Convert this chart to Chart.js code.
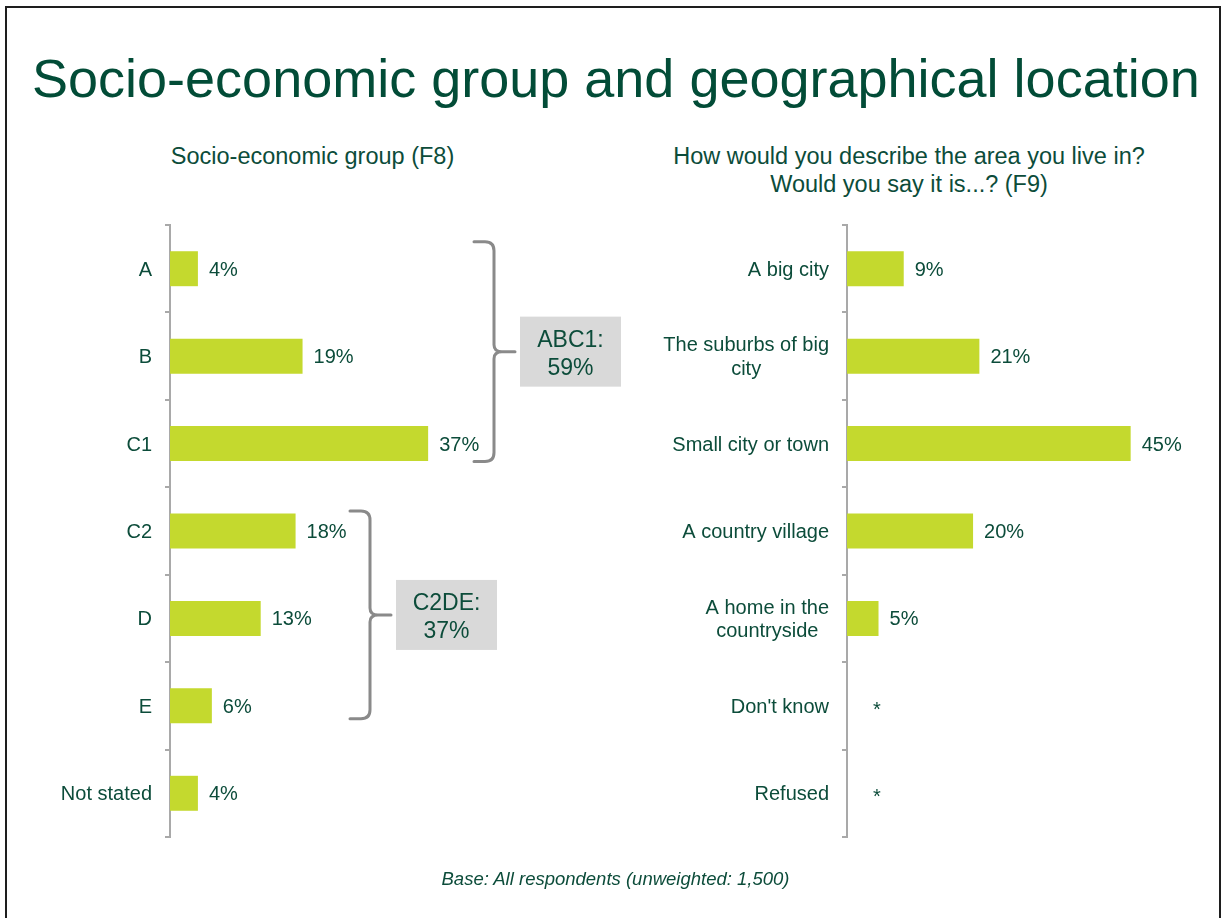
<!DOCTYPE html>
<html>
<head>
<meta charset="utf-8">
<title>Socio-economic group and geographical location</title>
<script src="https://cdn.jsdelivr.net/npm/chart.js@4.4.1/dist/chart.umd.min.js"></script>
<style>
  html, body { margin: 0; padding: 0; background: #ffffff; }
  body {
    width: 1228px; height: 918px; position: relative; overflow: hidden;
    font-family: "Liberation Sans", Arial, Helvetica, sans-serif; color: #0c4c3a;
  }
  .frame {
    position: absolute; left: 5px; top: 6px; width: 1212px; height: 1000px;
    border: 2px solid #1e1e1e; box-sizing: content-box;
  }
  .title {
    position: absolute; left: 32px; top: 51px; margin: 0;
    font-size: 54px; line-height: 1; font-weight: normal; color: #024c37; white-space: nowrap;
  }
  .sub {
    position: absolute; top: 142px; font-size: 23.5px; line-height: 28px;
    white-space: nowrap; text-align: center;
  }
  .sub.left { left: 0; width: 625px; }
  .sub.right { left: 640px; width: 538px; }
  .note {
    position: absolute; left: 0; width: 1231px; top: 870px; text-align: center;
    font-size: 18.5px; line-height: 1; font-style: italic; white-space: nowrap;
  }
  canvas { position: absolute; top: 0; }
  #segChart { left: 0; }
  #areaChart { left: 640px; }
</style>
</head>
<body>
<div class="frame"></div>
<h1 class="title">Socio-economic group and geographical location</h1>
<div class="sub left">Socio-economic group (F8)</div>
<div class="sub right">How would you describe the area you live in?<br>Would you say it is...? (F9)</div>
<canvas id="segChart" width="640" height="918"></canvas>
<canvas id="areaChart" width="588" height="918"></canvas>
<div class="note">Base: All respondents (unweighted: 1,500)</div>

<script>
// Socio-economic group (F8), % of respondents
const segCategories = ['A', 'B', 'C1', 'C2', 'D', 'E', 'Not stated'];
const segValues = [4, 19, 37, 18, 13, 6, 4];

// Net groupings shown beside the socio-economic bars
const groupNames = ['ABC1:', 'C2DE:'];
const groupTotals = [59, 37];
const groupFirst = ['A', 'C2'];
const groupLast = ['C1', 'E'];

// Area lived in (F9), % of respondents; null = under 0.5%, shown as "*"
const areaCategories = [
  'A big city',
  ['The suburbs of big', 'city'],
  'Small city or town',
  'A country village',
  ['A home in the', 'countryside'],
  "Don't know",
  'Refused'
];
const areaValues = [9, 21, 45, 20, 5, null, null];

const BAR = '#c4d92e';
const AXIS = '#a9a9a9';
const TEXT = '#0c4c3a';
const FONT = '"Liberation Sans", Arial, Helvetica, sans-serif';

// Category names (multi-line names centred on each other) and value labels
const barLabels = {
  id: 'barLabels',
  afterDatasetsDraw(chart) {
    const { ctx, chartArea, scales: { x, y } } = chart;
    const values = chart.data.datasets[0].data;
    ctx.save();
    ctx.fillStyle = TEXT;
    ctx.font = '20px ' + FONT;
    ctx.textBaseline = 'alphabetic';
    chart.data.labels.forEach((lab, i) => {
      const cy = y.getPixelForValue(i);
      const lines = [].concat(lab);
      const widest = Math.max(...lines.map(l => ctx.measureText(l).width));
      const right = chartArea.left - 18;
      ctx.textAlign = 'center';
      lines.forEach((line, k) => {
        const ly = cy + (k - (lines.length - 1) / 2) * 23.5 + 7;
        ctx.fillText(line, right - widest / 2, ly);
      });
      const v = values[i];
      ctx.textAlign = 'left';
      if (v === null) {
        ctx.fillText('*', x.getPixelForValue(0) + 26, cy + 10);
      } else {
        ctx.fillText(v + '%', x.getPixelForValue(v) + 11, cy + 7);
      }
    });
    ctx.restore();
  }
};

// Curly braces with a shaded total box for the net groups
const braces = {
  id: 'braces',
  afterDatasetsDraw(chart, args, opts) {
    const { ctx, scales: { y } } = chart;
    const cats = chart.data.labels;
    ctx.save();
    groupNames.forEach((name, g) => {
      const x = opts.x[g];
      const top = y.getPixelForValue(cats.indexOf(groupFirst[g])) - opts.above[g];
      const bottom = y.getPixelForValue(cats.indexOf(groupLast[g])) + opts.below[g];
      const mid = (top + bottom) / 2;
      const hookX = x - 20, tipX = x + 21, r = 9;

      ctx.strokeStyle = '#8a8a8a';
      ctx.lineWidth = 3;
      ctx.lineCap = 'round';
      ctx.lineJoin = 'round';
      ctx.beginPath();
      ctx.moveTo(hookX, top);
      ctx.lineTo(x - r, top);
      ctx.quadraticCurveTo(x, top, x, top + r);
      ctx.lineTo(x, mid - 7);
      ctx.quadraticCurveTo(x, mid, x + 8, mid);
      ctx.lineTo(tipX, mid);
      ctx.moveTo(x + 8, mid);
      ctx.quadraticCurveTo(x, mid, x, mid + 7);
      ctx.lineTo(x, bottom - r);
      ctx.quadraticCurveTo(x, bottom, x - r, bottom);
      ctx.lineTo(hookX, bottom);
      ctx.stroke();

      const bx = tipX + 5, bw = 101, bh = 70;
      ctx.fillStyle = '#d9d9d9';
      ctx.fillRect(bx, mid - bh / 2, bw, bh);
      ctx.fillStyle = TEXT;
      ctx.font = '23px ' + FONT;
      ctx.textAlign = 'center';
      ctx.textBaseline = 'alphabetic';
      ctx.fillText(name, bx + bw / 2, mid - 5);
      ctx.fillText(groupTotals[g] + '%', bx + bw / 2, mid + 23);
    });
    ctx.restore();
  }
};

function barChart(canvasId, categories, values, axisLeft, xMax, padRight, extra) {
  return new Chart(document.getElementById(canvasId), {
    type: 'bar',
    data: {
      labels: categories,
      datasets: [{
        data: values,
        backgroundColor: BAR,
        borderWidth: 0,
        categoryPercentage: 1,
        barPercentage: 0.4
      }]
    },
    options: {
      indexAxis: 'y',
      responsive: false,
      animation: false,
      devicePixelRatio: 1,
      events: [],
      layout: { padding: { top: 225, bottom: 81, left: 0, right: padRight } },
      plugins: {
        legend: { display: false },
        tooltip: { enabled: false },
        braces: { x: [494, 370], above: [27, 20], below: [18, 13] }
      },
      scales: {
        x: { display: false, min: 0, max: xMax },
        y: {
          afterFit(scale) { scale.width = axisLeft; },
          border: { display: true, color: AXIS, width: 2 },
          grid: { drawOnChartArea: false, drawTicks: true, tickLength: 5, color: AXIS, lineWidth: 2 },
          ticks: { display: false }
        }
      }
    },
    plugins: [barLabels].concat(extra)
  });
}

barChart('segChart', segCategories, segValues, 170, 64.5, 20, [braces]);
barChart('areaChart', areaCategories, areaValues, 207, 56, 28, []);
</script>
</body>
</html>
